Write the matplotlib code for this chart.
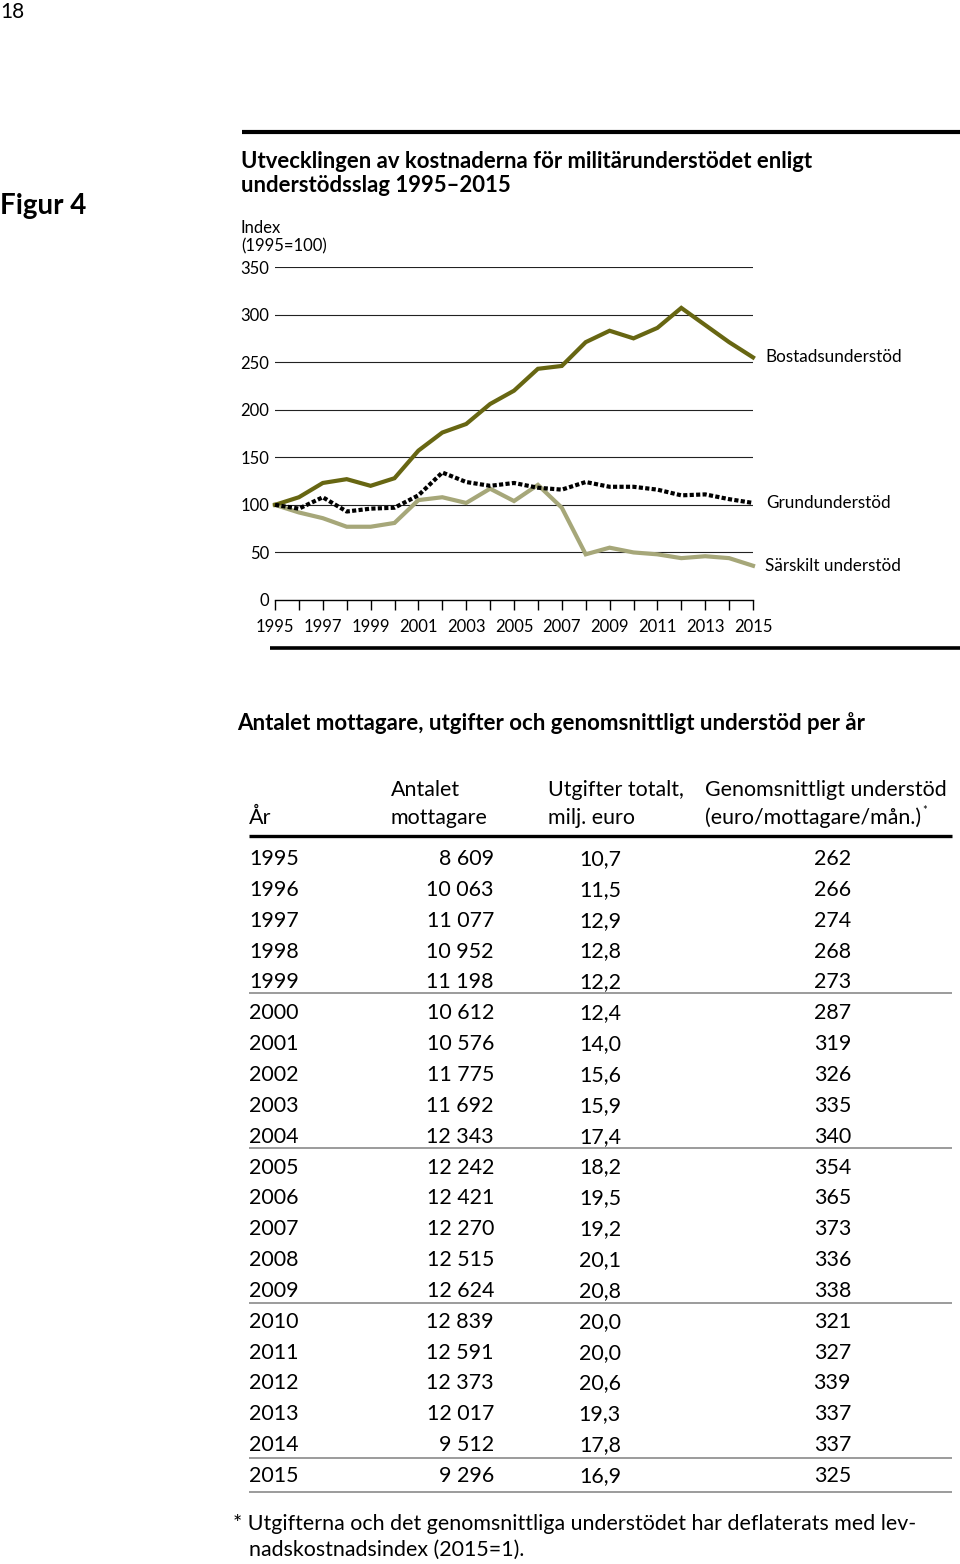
import matplotlib
matplotlib.use("Agg")
import matplotlib.pyplot as plt
from matplotlib.lines import Line2D

plt.rcParams['font.family'] = ['Lato', 'DejaVu Sans']

# ---------------- data ----------------
years = list(range(1995, 2016))
bostad = [100, 108, 123, 127, 120, 128, 157, 176, 185, 206, 220, 243, 246, 271, 283, 275, 286, 307, 289, 271, 255]
grund = [100, 96, 108, 93, 96, 97, 110, 134, 124, 120, 123, 118, 116, 124, 119, 119, 116, 110, 111, 106, 102]
sarskilt = [100, 92, 86, 77, 77, 81, 105, 108, 102, 117, 104, 121, 97, 48, 55, 50, 48, 44, 46, 44, 36]
series_names = ["Bostadsunderstöd", "Grundunderstöd", "Särskilt understöd"]

yticks = [0, 50, 100, 150, 200, 250, 300, 350]

table_years = years
mottagare = [8609, 10063, 11077, 10952, 11198, 10612, 10576, 11775, 11692, 12343,
             12242, 12421, 12270, 12515, 12624, 12839, 12591, 12373, 12017, 9512, 9296]
utgifter = [10.7, 11.5, 12.9, 12.8, 12.2, 12.4, 14.0, 15.6, 15.9, 17.4,
            18.2, 19.5, 19.2, 20.1, 20.8, 20.0, 20.0, 20.6, 19.3, 17.8, 16.9]
genomsnitt = [262, 266, 274, 268, 273, 287, 319, 326, 335, 340,
              354, 365, 373, 336, 338, 321, 327, 339, 337, 337, 325]

# ---------------- figure ----------------
W, H = 960, 1564
fig = plt.figure(figsize=(W / 100, H / 100), dpi=100)
fig.patch.set_facecolor("white")


def fx(x):
    return x / W


def fy(y):
    return 1 - y / H


def txt(x, y, s, size, weight="normal", ha="left", va="center", color="black", **kw):
    return fig.text(fx(x), fy(y), s, fontsize=size, fontweight=weight, ha=ha, va=va, color=color, **kw)


def hline(x0, x1, y, lw, color="black"):
    fig.add_artist(Line2D([fx(x0), fx(x1)], [fy(y), fy(y)], lw=lw, color=color,
                          transform=fig.transFigure, solid_capstyle="butt"))


# page number and figure label
txt(0, 12, "18", 15)
txt(0, 206, "Figur 4", 20, weight="bold")

# top rule and title
hline(242, 960, 132, 3.0)
txt(241, 161, "Utvecklingen av kostnaderna för militärunderstödet enligt", 15.9, weight="bold")
txt(241, 185, "understödsslag 1995–2015", 15.9, weight="bold")
txt(241, 228, "Index", 12)
txt(241, 246, "(1995=100)", 12)

# ---------------- line chart ----------------
ax_l, ax_r, ax_t, ax_b = 275, 753, 267, 600
ax = fig.add_axes([fx(ax_l), fy(ax_b), fx(ax_r - ax_l), (ax_b - ax_t) / H])
ax.set_xlim(1995, 2015)
ax.set_ylim(0, 350)
for sp in ["top", "right", "left"]:
    ax.spines[sp].set_visible(False)
ax.spines["bottom"].set_linewidth(1.0)
ax.set_facecolor("none")

for v in yticks[1:]:
    ax.axhline(v, color="#222222", lw=0.8, zorder=1)

ax.set_yticks(yticks)
ax.set_yticklabels([str(v) for v in yticks], fontsize=12)
ax.tick_params(axis="y", length=0, pad=4)

ax.set_xticks(years)
ax.set_xticklabels([str(y) if (y - 1995) % 2 == 0 else "" for y in years], fontsize=12)
ax.tick_params(axis="x", length=7, width=1.0, direction="out", pad=7)

ax.plot(years, sarskilt, color="#a6a779", lw=3.0, zorder=3, clip_on=False, solid_joinstyle="miter")
ax.plot(years, bostad, color="#676612", lw=3.0, zorder=4, clip_on=False, solid_joinstyle="miter")
ax.plot(years, grund, color="black", lw=3.0, zorder=5, clip_on=False, linestyle=(0, (1.0, 0.55)))

txt(765, 357, series_names[0], 12.3)
txt(766, 503, series_names[1], 12.3)
txt(765, 566, series_names[2], 12.3)

# bottom rule of chart
hline(270, 960, 648, 2.6)

# ---------------- table ----------------
txt(237, 723, "Antalet mottagare, utgifter och genomsnittligt understöd per år", 16.0, weight="bold")

TS = 15.4
txt(249, 818, "År", TS)
txt(391, 790, "Antalet", TS)
txt(391, 818, "mottagare", TS)
txt(548, 790, "Utgifter totalt,", TS)
txt(548, 818, "milj. euro", TS)
txt(705, 790, "Genomsnittligt understöd", TS)
hdr = txt(705, 818, "(euro/mottagare/mån.)", TS)

fig.canvas.draw()
bb = hdr.get_window_extent(renderer=fig.canvas.get_renderer())
star_x = bb.x1 + 1
txt(star_x, 811, "*", 8)

hline(249, 952, 836, 2.4)

row0, dy = 859, 30.85
for i, yr in enumerate(table_years):
    y = row0 + i * dy
    txt(249, y, str(yr), TS)
    txt(494, y, f"{mottagare[i]:,}".replace(",", " "), TS, ha="right")
    txt(621, y, f"{utgifter[i]:.1f}".replace(".", ","), TS, ha="right")
    txt(851, y, str(genomsnitt[i]), TS, ha="right")

for yline in [993, 1148, 1303, 1458, 1492]:
    hline(249, 952, yline, 1.2, color="#8a8a8a")

txt(233, 1524, "* Utgifterna och det genomsnittliga understödet har deflaterats med lev-", TS)
txt(249, 1550, "nadskostnadsindex (2015=1).", TS)

fig.savefig("out.png", dpi=100, facecolor="white")
